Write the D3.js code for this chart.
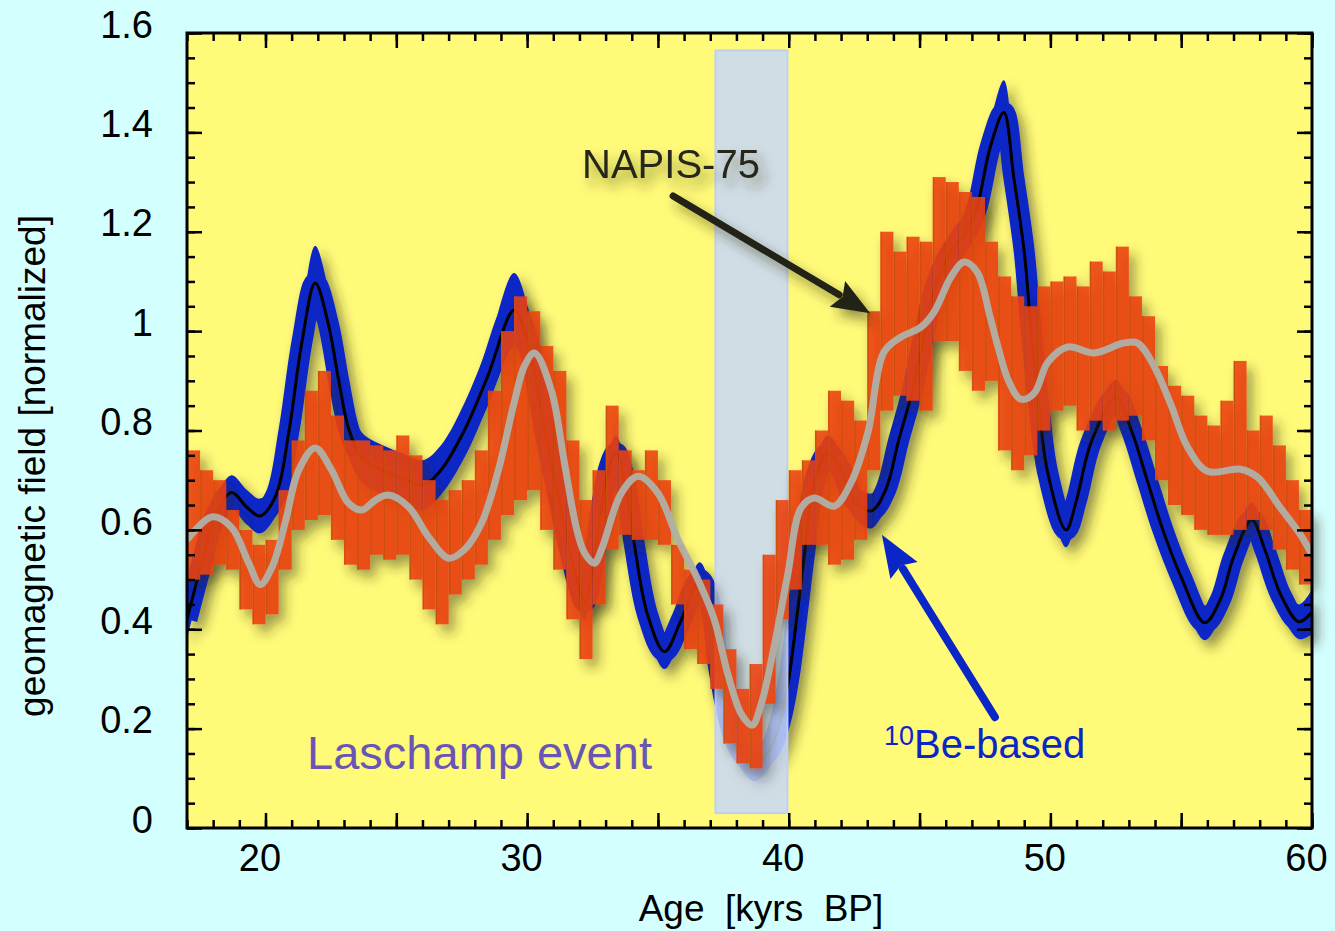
<!DOCTYPE html>
<html>
<head>
<meta charset="utf-8">
<script src="https://cdn.jsdelivr.net/npm/d3@7"></script>
<style>
    html, body { margin: 0; padding: 0; background: #d4ffff; }
    svg text { font-family: "Liberation Sans", Arial, Helvetica, sans-serif; }
</style>
</head>
<body>
<div id="chart"></div>
<script>
// 10Be-based field reconstruction (centre line + 1 sigma)
const blueAge = [17.0, 17.6, 18.1, 18.7, 19.3, 19.8, 20.4, 20.9, 21.4, 21.9, 22.4, 22.8, 23.2, 23.7, 24.5, 25.2, 26.0, 26.7, 27.6, 28.5,
    29.5, 30.05, 30.45, 30.8, 31.2, 31.6, 32.0, 32.2, 32.5, 32.8, 33.1, 33.4, 33.75, 34.1, 34.6, 35.25, 35.9, 36.6, 37.0, 37.3,
    37.7, 38.1, 38.7, 39.3, 39.7, 40.0, 40.3, 40.6, 41.0, 41.5, 42.0, 42.5, 43.15, 43.7, 44.2, 44.7, 45.2, 45.6, 46.2, 46.8,
    47.2, 47.7, 48.22, 48.6, 49.0, 49.25, 49.55, 49.9, 50.6, 51.0, 51.55, 52.5, 53.1, 53.7, 54.3, 55.0, 55.9, 56.5, 57.0, 57.7,
    58.2, 58.8, 59.5, 60.0];
const blueVal = [0.42, 0.54, 0.63, 0.675, 0.645, 0.628, 0.67, 0.80, 0.98, 1.097, 1.015, 0.90, 0.80, 0.745, 0.72, 0.705, 0.69, 0.72, 0.80, 0.91,
    1.042, 0.975, 0.865, 0.765, 0.665, 0.565, 0.48, 0.455, 0.52, 0.63, 0.72, 0.755, 0.69, 0.57, 0.43, 0.355, 0.42, 0.50, 0.45, 0.33,
    0.22, 0.16, 0.13, 0.16, 0.22, 0.30, 0.42, 0.55, 0.70, 0.755, 0.72, 0.66, 0.638, 0.68, 0.78, 0.875, 1.0, 1.09, 1.16, 1.20,
    1.25, 1.37, 1.44, 1.31, 1.16, 1.01, 0.855, 0.715, 0.60, 0.66, 0.775, 0.867, 0.80, 0.70, 0.60, 0.505, 0.413, 0.46, 0.545, 0.62,
    0.56, 0.47, 0.415, 0.435];
const blueErr = [0.04, 0.035, 0.035, 0.035, 0.035, 0.035, 0.04, 0.05, 0.06, 0.075, 0.07, 0.06, 0.055, 0.05, 0.05, 0.05, 0.05, 0.05, 0.055, 0.06,
    0.075, 0.07, 0.06, 0.05, 0.04, 0.035, 0.035, 0.035, 0.035, 0.035, 0.035, 0.035, 0.035, 0.035, 0.035, 0.035, 0.035, 0.035, 0.035, 0.035,
    0.035, 0.035, 0.035, 0.035, 0.035, 0.035, 0.035, 0.035, 0.035, 0.035, 0.035, 0.035, 0.035, 0.035, 0.035, 0.035, 0.035, 0.04, 0.04, 0.04,
    0.045, 0.05, 0.065, 0.06, 0.05, 0.04, 0.035, 0.035, 0.035, 0.035, 0.035, 0.035, 0.035, 0.035, 0.035, 0.035, 0.035, 0.035, 0.035, 0.035,
    0.035, 0.035, 0.035, 0.045];

// NAPIS-75 stack, min / max of the bars
const napisAge = [17.25, 17.75, 18.25, 18.75, 19.25, 19.75, 20.25, 20.75, 21.25, 21.75, 22.25, 22.75, 23.25, 23.75, 24.25, 24.75, 25.25, 25.75,
    26.25, 26.75, 27.25, 27.75, 28.25, 28.75, 29.25, 29.75, 30.25, 30.75, 31.25, 31.75, 32.25, 32.75, 33.25, 33.75, 34.25, 34.75,
    35.25, 35.75, 36.25, 36.75, 37.25, 37.75, 38.25, 38.75, 39.25, 39.75, 40.25, 40.75, 41.25, 41.75, 42.25, 42.75, 43.25, 43.75,
    44.25, 44.75, 45.25, 45.75, 46.25, 46.75, 47.25, 47.75, 48.25, 48.75, 49.25, 49.75, 50.25, 50.75, 51.25, 51.75, 52.25, 52.75,
    53.25, 53.75, 54.25, 54.75, 55.25, 55.75, 56.25, 56.75, 57.25, 57.75, 58.25, 58.75, 59.25, 59.75];
const napisHi = [0.76, 0.72, 0.70, 0.64, 0.60, 0.57, 0.58, 0.68, 0.78, 0.88, 0.92, 0.83, 0.78, 0.78, 0.77, 0.76, 0.79, 0.75,
    0.70, 0.66, 0.68, 0.70, 0.76, 0.88, 1.00, 1.07, 1.04, 0.97, 0.92, 0.78, 0.66, 0.72, 0.85, 0.76, 0.72, 0.76,
    0.70, 0.57, 0.52, 0.50, 0.45, 0.36, 0.28, 0.33, 0.55, 0.66, 0.72, 0.74, 0.80, 0.88, 0.86, 0.82, 1.04, 1.20,
    1.16, 1.19, 1.18, 1.31, 1.30, 1.28, 1.27, 1.18, 1.11, 1.07, 1.05, 1.09, 1.10, 1.11, 1.09, 1.14, 1.12, 1.17,
    1.07, 1.03, 0.93, 0.89, 0.87, 0.83, 0.81, 0.86, 0.94, 0.80, 0.83, 0.77, 0.70, 0.64];
const napisLo = [0.50, 0.51, 0.53, 0.52, 0.44, 0.41, 0.43, 0.52, 0.60, 0.62, 0.63, 0.58, 0.53, 0.52, 0.55, 0.54, 0.55, 0.50,
    0.44, 0.41, 0.47, 0.50, 0.53, 0.58, 0.63, 0.66, 0.68, 0.60, 0.52, 0.42, 0.34, 0.45, 0.56, 0.59, 0.58, 0.58,
    0.57, 0.45, 0.36, 0.33, 0.28, 0.17, 0.13, 0.12, 0.25, 0.42, 0.48, 0.57, 0.57, 0.53, 0.54, 0.58, 0.72, 0.84,
    0.87, 0.86, 0.84, 0.98, 0.98, 0.92, 0.88, 0.90, 0.76, 0.72, 0.75, 0.80, 0.84, 0.85, 0.80, 0.82, 0.80, 0.82,
    0.83, 0.78, 0.70, 0.65, 0.63, 0.60, 0.59, 0.59, 0.60, 0.62, 0.60, 0.56, 0.52, 0.49];

// smoothed NAPIS-75 (grey)
const smoothAge = [17.0, 17.95, 18.7, 19.36, 19.8, 20.25, 20.75, 21.27, 21.9, 22.53, 23.17, 23.68, 24.2, 24.7, 25.47, 26.23, 27.0, 27.6,
    28.26, 28.9, 29.5, 29.9, 30.28, 30.93, 31.43, 31.9, 32.2, 32.57, 32.84, 33.6, 34.25, 35.0, 35.77, 36.53, 37.15, 37.67, 38.2,
    38.6, 38.94, 39.45, 39.96, 40.47, 40.97, 41.74, 42.37, 43.02, 43.64, 44.28, 45.05, 45.55, 46.2, 46.7, 47.2, 47.7, 48.0, 48.4,
    48.87, 49.38, 49.9, 50.66, 51.67, 52.8, 53.33, 53.96, 54.6, 55.24, 56.0, 57.27, 57.92, 58.8, 59.56, 60.0];
const smoothVal = [0.58, 0.626, 0.605, 0.533, 0.49, 0.525, 0.614, 0.72, 0.765, 0.72, 0.654, 0.64, 0.66, 0.67, 0.646, 0.586, 0.543, 0.56,
    0.614, 0.72, 0.855, 0.93, 0.956, 0.88, 0.734, 0.60, 0.553, 0.533, 0.56, 0.674, 0.708, 0.674, 0.58, 0.50, 0.42, 0.31, 0.228,
    0.207, 0.248, 0.368, 0.51, 0.644, 0.664, 0.648, 0.694, 0.795, 0.958, 0.988, 1.008, 1.038, 1.109, 1.139, 1.119, 1.028, 0.968, 0.90,
    0.863, 0.875, 0.937, 0.968, 0.956, 0.976, 0.976, 0.93, 0.853, 0.767, 0.718, 0.722, 0.706, 0.644, 0.59, 0.55];

const laschamp = [37.2, 39.95];
const xMajorTicks = [20, 25, 30, 35, 40, 45, 50, 55, 60];
const xLabelTicks = [20, 30, 40, 50, 60];
const yMajorTicks = [0, 0.2, 0.4, 0.6, 0.8, 1, 1.2, 1.4, 1.6];

const W = 1335, H = 931;
const BLUE = "#0b26c6";

const x = d3.scaleLinear().domain([17, 60]).range([187, 1312]);
const y = d3.scaleLinear().domain([0, 1.6]).range([828, 33]);

const svg = d3.select("#chart").append("svg")
    .attr("width", W)
    .attr("height", H);

const defs = svg.append("defs");
const shadow = defs.append("filter").attr("id", "shadow")
    .attr("x", "-10%").attr("y", "-10%").attr("width", "130%").attr("height", "130%");
shadow.append("feDropShadow")
    .attr("dx", 6).attr("dy", 8).attr("stdDeviation", 6)
    .attr("flood-color", "#2c2c08").attr("flood-opacity", 0.5);
defs.append("clipPath").attr("id", "plotClip")
    .append("rect")
    .attr("x", x(17)).attr("y", y(1.6))
    .attr("width", x(60) - x(17)).attr("height", y(0) - y(1.6));

// plot background
svg.append("rect")
    .attr("x", x(17)).attr("y", y(1.6))
    .attr("width", x(60) - x(17)).attr("height", y(0) - y(1.6))
    .attr("fill", "#fffa78");

// blue curve
const blueData = blueAge.map((a, i) => ({a: a, v: blueVal[i], e: blueErr[i]}));
const blueArea = d3.area()
    .x(d => x(d.a)).y0(d => y(d.v - d.e)).y1(d => y(d.v + d.e))
    .curve(d3.curveCatmullRom);
const blueLine = d3.line().x(d => x(d.a)).y(d => y(d.v)).curve(d3.curveCatmullRom);

const gBlue = svg.append("g").attr("filter", "url(#shadow)")
    .append("g").attr("clip-path", "url(#plotClip)");
gBlue.append("path").attr("d", blueArea(blueData)).attr("fill", BLUE);
gBlue.append("path").attr("d", blueLine(blueData))
    .attr("fill", "none").attr("stroke", BLUE)
    .attr("stroke-width", 21).attr("stroke-linejoin", "round");
gBlue.append("path").attr("d", blueLine(blueData))
    .attr("fill", "none").attr("stroke", "#000").attr("stroke-width", 3);

// Laschamp band
svg.append("rect")
    .attr("x", x(laschamp[0])).attr("y", y(1.565))
    .attr("width", x(laschamp[1]) - x(laschamp[0]))
    .attr("height", y(0.03) - y(1.565))
    .attr("fill", "#c8d7f7").attr("fill-opacity", 0.85)
    .attr("stroke", "#bfcff6").attr("stroke-width", 2);

// NAPIS-75 bars
const napis = napisAge.map((a, i) => ({a: a, hi: napisHi[i], lo: napisLo[i]}));
const gRed = svg.append("g").attr("filter", "url(#shadow)")
    .append("g").attr("clip-path", "url(#plotClip)");
gRed.selectAll("rect").data(napis).enter().append("rect")
    .attr("x", d => x(d.a - 0.25))
    .attr("width", d => x(d.a + 0.25) - x(d.a - 0.25))
    .attr("y", d => y(d.hi))
    .attr("height", d => y(d.lo) - y(d.hi))
    .attr("fill", "#ec4210").attr("fill-opacity", 0.88);
gRed.selectAll("line").data(napis).enter().append("line")
    .attr("x1", d => x(d.a - 0.25) + 1).attr("x2", d => x(d.a - 0.25) + 1)
    .attr("y1", d => y(d.hi)).attr("y2", d => y(d.lo))
    .attr("stroke", "#c8500c").attr("stroke-width", 1.2);

// smoothed grey line
const smooth = smoothAge.map((a, i) => ({a: a, v: smoothVal[i]}));
svg.append("g").attr("clip-path", "url(#plotClip)")
    .append("path")
    .attr("d", d3.line().x(d => x(d.a)).y(d => y(d.v)).curve(d3.curveCatmullRom)(smooth))
    .attr("fill", "none").attr("stroke", "#b0b0a8").attr("stroke-opacity", 0.95)
    .attr("stroke-width", 7).attr("stroke-linejoin", "round");

// arrows
function arrow(g, from, to, color, width, headLen, headW) {
    const x0 = x(from[0]), y0 = y(from[1]), x1 = x(to[0]), y1 = y(to[1]);
    const L = Math.hypot(x1 - x0, y1 - y0);
    const ux = (x1 - x0) / L, uy = (y1 - y0) / L;
    const bx = x1 - ux * headLen, by = y1 - uy * headLen;
    g.append("line")
        .attr("x1", x0).attr("y1", y0).attr("x2", bx + ux * 2).attr("y2", by + uy * 2)
        .attr("stroke", color).attr("stroke-width", width).attr("stroke-linecap", "round");
    g.append("path")
        .attr("d", `M${x1},${y1}L${bx - uy * headW / 2},${by + ux * headW / 2}L${bx + ux * 6},${by + uy * 6}L${bx + uy * headW / 2},${by - ux * headW / 2}Z`)
        .attr("fill", color);
}

const gNote = svg.append("g").attr("filter", "url(#shadow)");
gNote.append("text")
    .attr("x", x(32.1)).attr("y", y(1.308))
    .attr("font-size", 40).attr("fill", "#26261a")
    .text("NAPIS-75");
arrow(gNote, [35.58, 1.272], [43.11, 1.036], "#222218", 7, 38, 30);

arrow(svg.append("g"), [47.88, 0.223], [43.56, 0.59], BLUE, 8, 42, 32);

const be = svg.append("text")
    .attr("x", x(43.64)).attr("y", y(0.141))
    .attr("font-size", 40).attr("fill", BLUE);
be.append("tspan").attr("font-size", 27).attr("dy", -13).text("10");
be.append("tspan").attr("dy", 13).text("Be-based");

svg.append("text")
    .attr("x", x(21.59)).attr("y", y(0.119))
    .attr("font-size", 47).attr("fill", "#6955b5")
    .text("Laschamp event");

// axes
function styleAxis(g) {
    g.select(".domain").remove();
    g.selectAll(".tick line").attr("stroke", "#000").attr("stroke-width", 2.5);
    g.selectAll("text").attr("font-family", null).attr("font-size", 38).attr("fill", "#000");
}
const xMinorTicks = d3.range(17, 61, 1);
const yMinorTicks = d3.range(0, 1.6001, 0.05);

svg.append("g").attr("transform", `translate(0,${y(0)})`)
    .call(d3.axisBottom(x).tickValues(xMinorTicks).tickSize(-8).tickFormat(""))
    .call(styleAxis);
svg.append("g").attr("transform", `translate(0,${y(0)})`)
    .call(d3.axisBottom(x).tickValues(xMajorTicks).tickSize(-15).tickPadding(16)
        .tickFormat(d => xLabelTicks.includes(d) ? d : ""))
    .call(styleAxis)
    .call(g => g.selectAll("text").attr("dx", -6));
svg.append("g").attr("transform", `translate(0,${y(1.6)})`)
    .call(d3.axisTop(x).tickValues(xMinorTicks).tickSize(-8).tickFormat(""))
    .call(styleAxis);
svg.append("g").attr("transform", `translate(0,${y(1.6)})`)
    .call(d3.axisTop(x).tickValues(xMajorTicks).tickSize(-15).tickFormat(""))
    .call(styleAxis);

svg.append("g").attr("transform", `translate(${x(17)},0)`)
    .call(d3.axisLeft(y).tickValues(yMinorTicks).tickSize(-8).tickFormat(""))
    .call(styleAxis);
svg.append("g").attr("transform", `translate(${x(17)},0)`)
    .call(d3.axisLeft(y).tickValues(yMajorTicks).tickSize(-15).tickPadding(34).tickFormat(d3.format("~g")))
    .call(styleAxis)
    .call(g => g.selectAll("text").attr("dy", "0.11em"));
svg.append("g").attr("transform", `translate(${x(60)},0)`)
    .call(d3.axisRight(y).tickValues(yMinorTicks).tickSize(-8).tickFormat(""))
    .call(styleAxis);
svg.append("g").attr("transform", `translate(${x(60)},0)`)
    .call(d3.axisRight(y).tickValues(yMajorTicks).tickSize(-15).tickFormat(""))
    .call(styleAxis);

svg.append("rect")
    .attr("x", x(17)).attr("y", y(1.6))
    .attr("width", x(60) - x(17)).attr("height", y(0) - y(1.6))
    .attr("fill", "none").attr("stroke", "#000").attr("stroke-width", 3);

// axis titles
svg.append("text")
    .attr("x", 761).attr("y", 921)
    .attr("text-anchor", "middle").attr("font-size", 37)
    .style("white-space", "pre")
    .text("Age  [kyrs  BP]");
svg.append("text")
    .attr("transform", "translate(45,466) rotate(-90)")
    .attr("text-anchor", "middle").attr("font-size", 37)
    .text("geomagnetic field [normalized]");
</script>
</body>
</html>
